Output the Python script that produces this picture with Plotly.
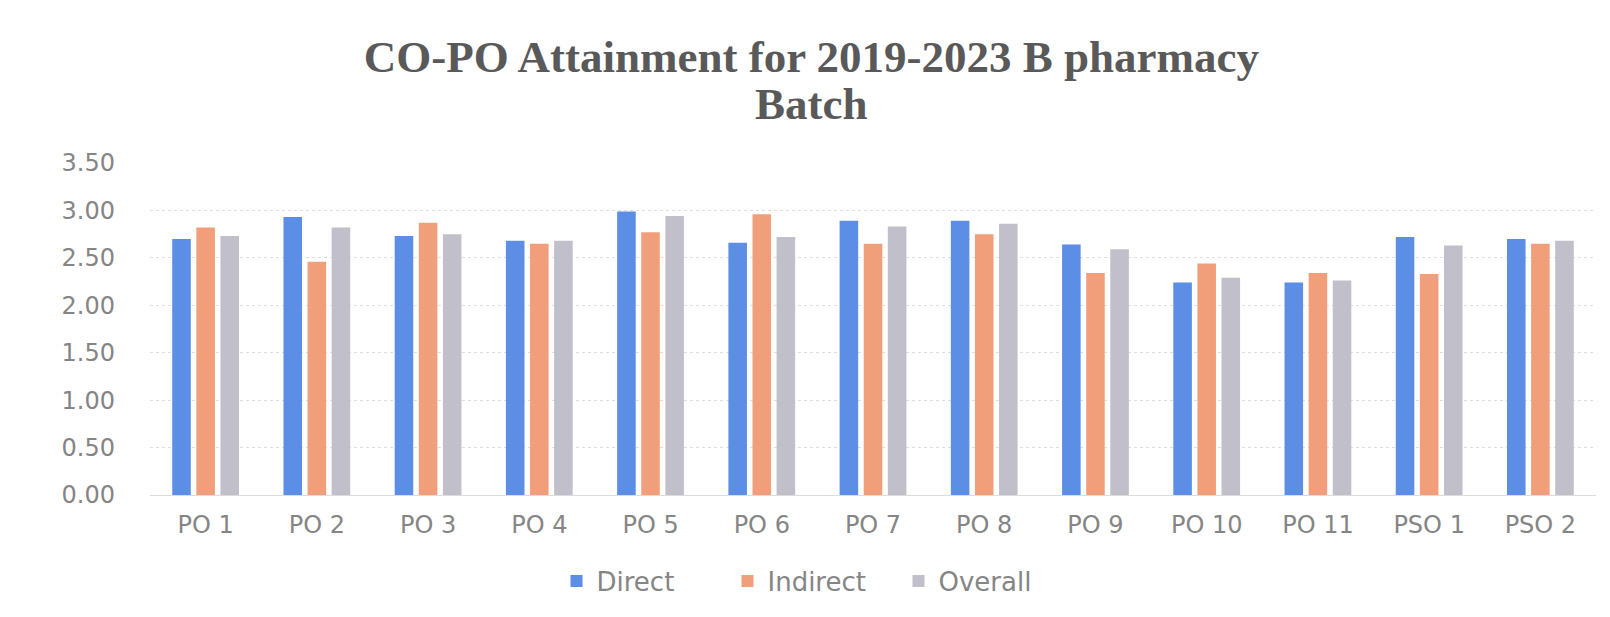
import plotly.graph_objects as go

categories = ["PO 1", "PO 2", "PO 3", "PO 4", "PO 5", "PO 6", "PO 7",
              "PO 8", "PO 9", "PO 10", "PO 11", "PSO 1", "PSO 2"]
direct = [2.70, 2.93, 2.73, 2.68, 2.99, 2.66, 2.89, 2.89, 2.64, 2.24, 2.24, 2.72, 2.70]
indirect = [2.82, 2.46, 2.87, 2.65, 2.77, 2.96, 2.65, 2.75, 2.34, 2.44, 2.34, 2.33, 2.65]
overall = [2.73, 2.82, 2.75, 2.68, 2.94, 2.72, 2.83, 2.86, 2.59, 2.29, 2.26, 2.63, 2.68]
y_ticks = [0, 0.5, 1.0, 1.5, 2.0, 2.5, 3.0, 3.5]
title_line1 = "CO-PO Attainment for 2019-2023 B pharmacy"
title_line2 = "Batch"

series = [("Direct", direct, "#5B8EE4"),
          ("Indirect", indirect, "#F19F7B"),
          ("Overall", overall, "#C0BFCA")]

fig = go.Figure()
for name, vals, col in series:
    fig.add_trace(go.Bar(x=categories, y=vals, name=name, marker_color=col,
                         marker_line_width=0))

tick_font = dict(family="DejaVu Sans", size=24, color="#858585")
title_font = dict(family="Liberation Serif", size=45, color="#595959")

L, R, T, B = 142, 22, 155, 130

fig.update_layout(
    width=1610, height=617,
    paper_bgcolor="white", plot_bgcolor="white",
    margin=dict(l=L, r=R, t=T, b=B),
    barmode="group", bargap=0.35, bargroupgap=0.23,
    title=dict(
        text="<b>" + title_line1 + "</b>",
        x=0.499, xref="container", xanchor="center",
        y=1 - 48 / 617, yref="container", yanchor="middle",
        font=title_font,
    ),
    legend=dict(
        orientation="h", x=0.5, xref="container", xanchor="center",
        y=44 / 617, yref="container", yanchor="middle",
        font=dict(family="DejaVu Sans", size=26, color="#858585"),
        itemwidth=30, traceorder="normal",
        entrywidth=126, entrywidthmode="pixels",
    ),
    xaxis=dict(
        type="category", tickfont=tick_font, showgrid=False,
        showline=True, linecolor="#dcdcdc", linewidth=1,
        ticks="", ticklabelstandoff=8,
    ),
    yaxis=dict(
        range=[0, 3.5], tickvals=y_ticks, tickformat=".2f",
        tickfont=tick_font, showgrid=True, gridcolor="#dedede",
        griddash="dot", gridwidth=1, zeroline=False, showline=False,
        ticks="", ticklabelstandoff=34,
    ),
)

fig.add_annotation(
    text="<b>" + title_line2 + "</b>", showarrow=False,
    xref="paper", yref="paper", x=(803 - L) / (1610 - L - R),
    y=1 + (T - 96) / (617 - T - B), xanchor="center", yanchor="middle",
    font=title_font,
)

fig.write_html("out.html")
